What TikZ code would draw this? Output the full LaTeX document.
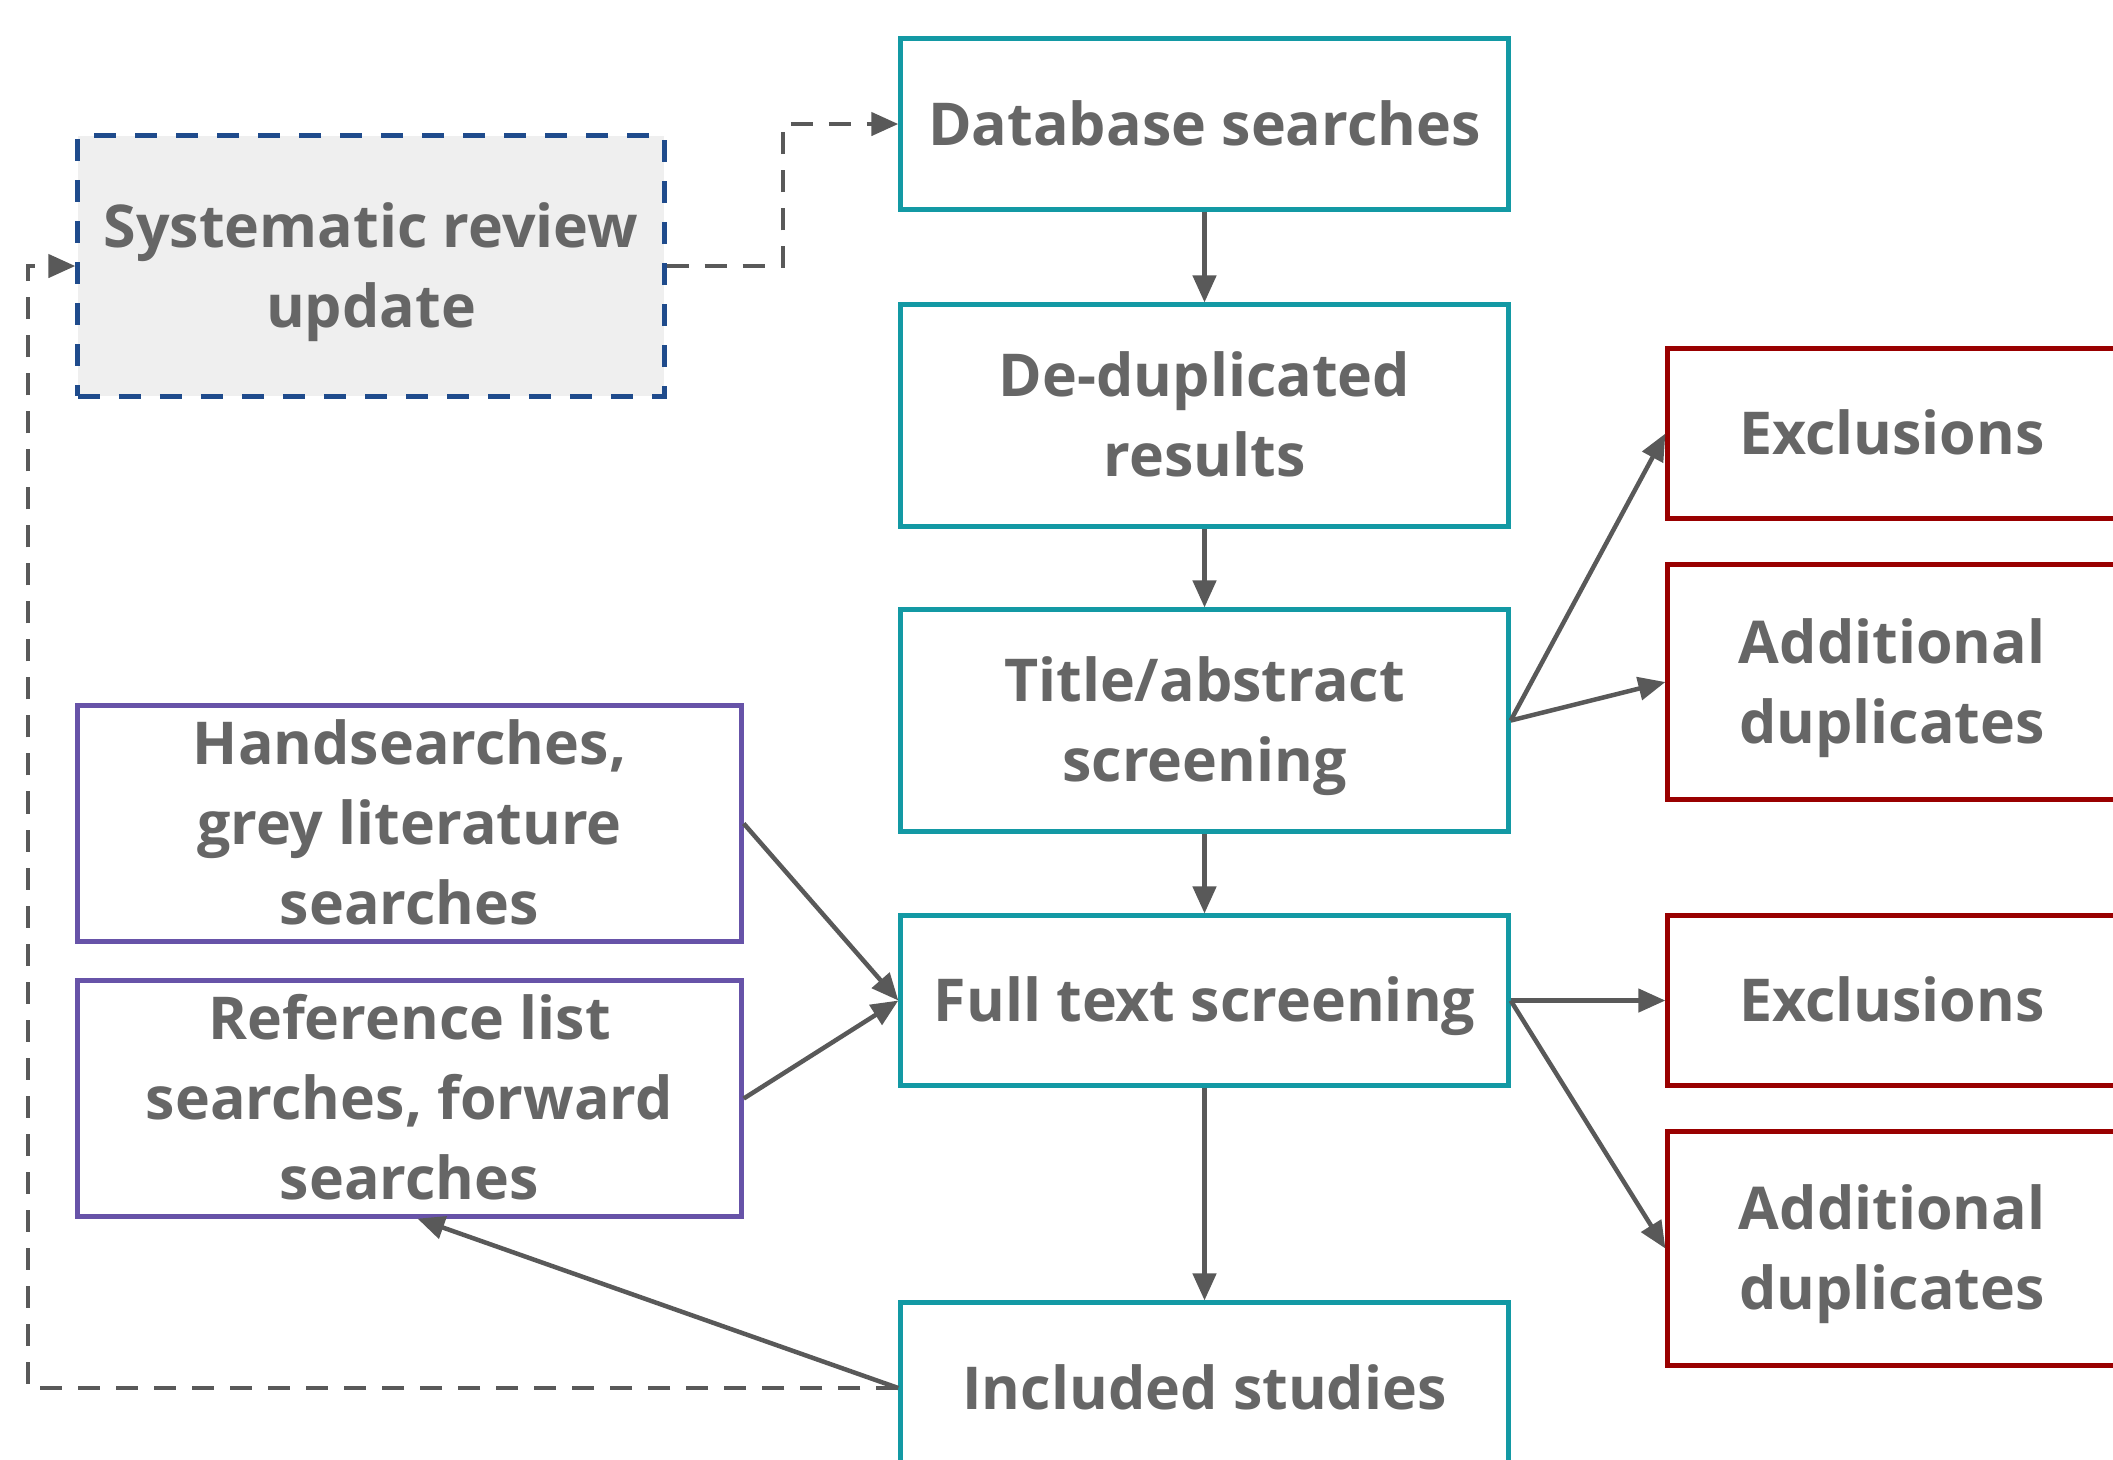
\documentclass[tikz,border=0pt]{standalone}
\usepackage{fontspec}
\setmainfont{Open Sans}
\usetikzlibrary{arrows.meta}
\definecolor{teal1}{HTML}{1399A4}
\definecolor{red1}{HTML}{990000}
\definecolor{purp1}{HTML}{6753A8}
\definecolor{navy1}{HTML}{1F4B8C}
\definecolor{txt1}{HTML}{666666}
\definecolor{arr1}{HTML}{595959}
\definecolor{fill1}{HTML}{EFEFEF}
\newcommand\mysth{\rule{0pt}{0.97em}}
\newcommand\mystd{\rule[-0.25em]{0pt}{0.25em}}
\tikzset{
  base/.style={draw, line width=0.05cm, align=center, inner sep=0pt,
    font=\fontsize{16.8}{22.8}\selectfont\bfseries, text=txt1},
  mainbox/.style={base, draw=teal1, minimum width=6.07cm},
  exbox/.style={base, draw=red1, minimum width=4.48cm},
  srcbox/.style={base, draw=purp1, minimum width=6.63cm, minimum height=2.35cm},
  updbox/.style={base, draw=navy1, fill=fill1, dash pattern=on 0.22cm off 0.19cm,
    minimum width=5.86cm, minimum height=2.6cm},
  conn/.style={draw=arr1, line width=0.045cm, -{Triangle[length=0.27cm,width=0.23cm]}},
  dconn/.style={conn, dash pattern=on 0.22cm off 0.16cm},
}
\begin{document}
\begin{tikzpicture}[x=0.01cm,y=-0.01cm]
\useasboundingbox (0,0) rectangle (2113,1459);
\clip (0,0) rectangle (2113,1459);
% main column
\node[mainbox, minimum height=1.70cm] (db) at (1204.5,124) {\mysth Database searches\mystd};
\node[mainbox, minimum height=2.21cm] (dd) at (1204.5,415.5) {\mysth De-duplicated\\results\mystd};
\node[mainbox, minimum height=2.21cm] (ta) at (1204.5,720.5) {\mysth Title/abstract\\screening\mystd};
\node[mainbox, minimum height=1.69cm] (ft) at (1204.5,1000.5) {\mysth Full text screening\mystd};
\node[mainbox, minimum height=1.70cm] (inc) at (1204.5,1388) {\mysth Included studies\mystd};
% right column
\node[exbox, minimum height=1.69cm] (ex1) at (1892,433.5) {\mysth Exclusions\mystd};
\node[exbox, minimum height=2.34cm] (ad1) at (1892,682) {\mysth Additional\\duplicates\mystd};
\node[exbox, minimum height=1.69cm] (ex2) at (1892,1000.5) {\mysth Exclusions\mystd};
\node[exbox, minimum height=2.33cm] (ad2) at (1892,1248.5) {\mysth Additional\\duplicates\mystd};
% left column
\node[updbox] (upd) at (371,266) {\mysth Systematic review\\update\mystd};
\node[srcbox] (hs) at (409.5,823.5) {\mysth Handsearches,\\grey literature\\searches\mystd};
\node[srcbox] (rl) at (409.5,1098.5) {\mysth Reference list\\searches, forward\\searches\mystd};
% connectors
\draw[conn] (db) -- (dd);
\draw[conn] (dd) -- (ta);
\draw[conn] (ta) -- (ft);
\draw[conn] (ft) -- (inc);
\draw[conn] (ta.east) -- (ex1.west);
\draw[conn] (ta.east) -- (ad1.west);
\draw[conn] (ft.east) -- (ex2.west);
\draw[conn] (ft.east) -- (ad2.west);
\draw[conn] (hs.east) -- (ft.west);
\draw[conn] (rl.east) -- (ft.west);
\draw[conn] (inc.west) -- ([xshift=0.08cm]rl.south);
\coordinate (c1) at (783,266);
\coordinate (c2) at (28,1388);
\draw[dconn] (upd.east) -- (c1) |- (db.west);
\draw[dconn] (inc.west) -- (c2) |- (upd.west);
\end{tikzpicture}
\end{document}
